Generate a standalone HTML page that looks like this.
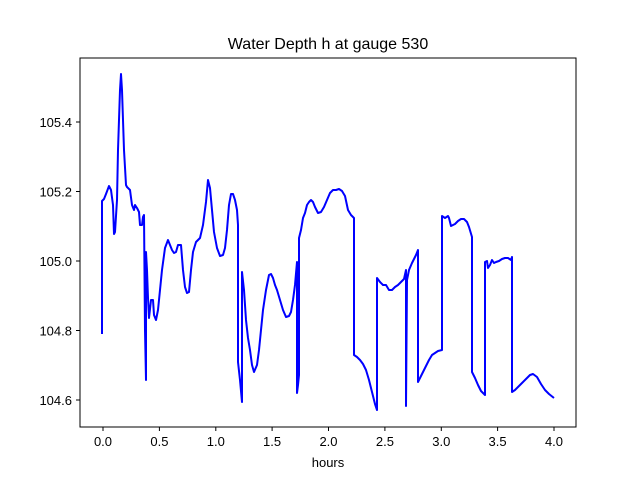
<!DOCTYPE html>
<html><head><style>body{margin:0;background:#fff}svg{display:block}</style></head><body>
<svg width="640" height="480" xmlns="http://www.w3.org/2000/svg" font-family="Liberation Sans, DejaVu Sans, sans-serif">
<rect width="640" height="480" fill="#fff"/>
<text x="328" y="49" font-size="16" text-anchor="middle">Water Depth h at gauge 530</text>
<polyline fill="none" stroke="#0000ff" stroke-width="2" stroke-linejoin="round" points="102,334 102,201 104,199 106,194 109,186 111,190 113,205 114,234 115,232 117,200 118,150 120,90 121,74 122,90 124,150 126,185 127,187 130,190 132,205 134,210 135,205 137,208 139,212 140,225 142,225 143,217 144,215 145,330 146,380 146,252 147,270 148,298 149,318 151,300 153,300 154,315 156,320 158,310 160,290 162,270 165,248 168,240 170,245 172,250 174,253 176,252 178,245 181,245 183,270 185,287 187,293 189,292 191,270 193,252 196,242 200,238 203,225 206,202 208,180 210,188 212,210 214,232 217,248 220,256 223,255 225,248 227,230 229,205 231,194 233,194 235,200 237,210 238,225 238,362 240,380 242,402 242,272 244,290 246,320 248,338 250,350 252,365 254,372 257,365 259,350 261,330 263,310 266,290 269,275 271,274 273,278 275,285 277,290 280,300 283,310 286,317 289,316 291,312 293,300 295,285 297,262 297,393 298,385 299,375 299,238 301,230 303,218 305,213 307,205 309,202 311,200 313,202 315,207 318,213 321,212 324,207 327,200 330,193 333,190 336,190 339,189 342,191 345,196 348,210 351,215 354,218 354,355 357,357 360,360 363,364 366,370 369,380 372,392 375,404 377,410 377,278 380,282 383,285 386,285 389,290 392,290 395,287 398,285 401,282 404,279 406,270 406,406 407,280 409,270 412,263 416,255 418,250 418,382 420,378 423,372 426,366 429,360 432,355 435,353 438,351 442,350 442,216 445,218 448,216 449,218 451,226 455,224 458,221 461,219 464,219 467,222 469,227 472,237 472,372 475,378 478,385 481,391 485,395 485,262 487,261 488,268 490,265 492,260 494,263 496,262 499,261 502,259 505,258 508,258 511,260 512,257 512,392 515,390 518,387 522,383 526,379 530,375 533,374 537,377 541,384 545,390 549,394 554,398"/>
<rect x="80" y="58" width="496" height="369" fill="none" stroke="#000" stroke-width="1"/>
<g stroke="#000" stroke-width="1">
<line x1="103" y1="427" x2="103" y2="431"/><line x1="159.4" y1="427" x2="159.4" y2="431"/><line x1="215.8" y1="427" x2="215.8" y2="431"/><line x1="272.1" y1="427" x2="272.1" y2="431"/><line x1="328.5" y1="427" x2="328.5" y2="431"/><line x1="384.9" y1="427" x2="384.9" y2="431"/><line x1="441.3" y1="427" x2="441.3" y2="431"/><line x1="497.6" y1="427" x2="497.6" y2="431"/><line x1="554" y1="427" x2="554" y2="431"/>
<line x1="76" y1="400" x2="80" y2="400"/><line x1="76" y1="330.5" x2="80" y2="330.5"/><line x1="76" y1="261" x2="80" y2="261"/><line x1="76" y1="191.5" x2="80" y2="191.5"/><line x1="76" y1="122" x2="80" y2="122"/>
</g>
<g font-size="13" text-anchor="middle">
<text x="103" y="446">0.0</text><text x="159.4" y="446">0.5</text><text x="215.8" y="446">1.0</text><text x="272.1" y="446">1.5</text><text x="328.5" y="446">2.0</text><text x="384.9" y="446">2.5</text><text x="441.3" y="446">3.0</text><text x="497.6" y="446">3.5</text><text x="554" y="446">4.0</text>
</g>
<g font-size="13" text-anchor="end">
<text x="72" y="405">104.6</text><text x="72" y="335.5">104.8</text><text x="72" y="266">105.0</text><text x="72" y="196.5">105.2</text><text x="72" y="127">105.4</text>
</g>
<text x="328" y="467" font-size="13" text-anchor="middle">hours</text>
</svg>
</body></html>
